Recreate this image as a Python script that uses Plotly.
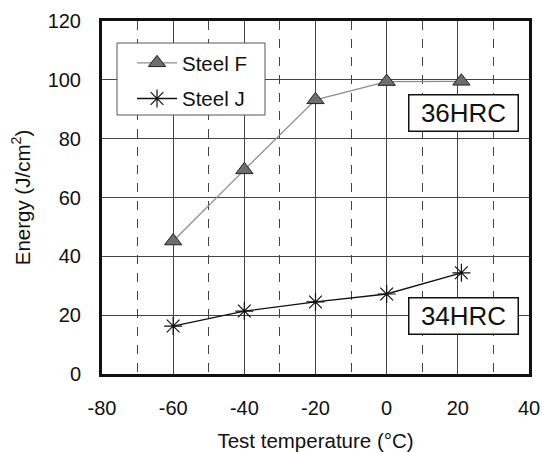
import plotly.graph_objects as go

temps = [-60, -40, -20, 0, 21]
steel_f = [45.2, 69.4, 93.2, 99.4, 99.5]
steel_j = [16.3, 21.4, 24.5, 27.2, 34.4]

x_ticks = [-80, -60, -40, -20, 0, 20, 40]
x_labels = ["-80", "-60", "-40", "-20", "0", "20", "40"]
y_ticks = [0, 20, 40, 60, 80, 100, 120]
y_labels = ["0", "20", "40", "60", "80", "100", "120"]

FONT = "Liberation Sans, Arial, sans-serif"
INK = "#111"

fig = go.Figure()
fig.add_trace(go.Scatter(
    x=temps, y=steel_f, name="Steel F", mode="lines+markers", legendgroup="f",
    line=dict(color="#8c8c8c", width=1.3),
    marker=dict(symbol="triangle-up", size=15, color="#6e6e6e",
                line=dict(color="#222", width=1)),
))
fig.add_trace(go.Scatter(
    x=temps, y=steel_j, name="Steel J", mode="lines+markers", legendgroup="j",
    line=dict(color=INK, width=1.3),
    marker=dict(symbol="asterisk-open", size=15, color=INK,
                line=dict(color=INK, width=1.2)),
))

# legend frame (decorative box behind the legend entries)
fig.add_shape(type="rect", xref="paper", yref="paper",
              x0=(117 - 102) / 427, x1=(265 - 102) / 427,
              y0=(374 - 115) / 353, y1=(374 - 43) / 353,
              line=dict(color="#555", width=1), fillcolor="white", layer="above")

for label, yv in [("36HRC", 88.6), ("34HRC", 19.6)]:
    fig.add_annotation(x=0.977, y=yv, xref="paper", yref="y", text=label,
                       showarrow=False, xanchor="right", yanchor="middle",
                       width=104, height=31, align="center",
                       font=dict(family=FONT, size=26, color=INK),
                       bordercolor=INK, borderwidth=1.5, borderpad=2, bgcolor="white")

axis_common = dict(
    showline=True, linewidth=3, linecolor=INK, mirror=True,
    showgrid=True, gridcolor="#444", gridwidth=1, zeroline=False,
    ticks="", tickfont=dict(family=FONT, size=20, color=INK),
    automargin=False,
)

fig.update_xaxes(
    range=[-80, 40], tickvals=x_ticks, ticktext=x_labels,
    minor=dict(tick0=-70, dtick=20, showgrid=True, gridcolor="#444",
               griddash="dash", gridwidth=1),
    title=dict(text="Test temperature (°C)", font=dict(family=FONT, size=20.5, color=INK),
               standoff=22),
    ticklabelstandoff=14,
    **axis_common,
)
fig.update_yaxes(
    range=[0, 120], tickvals=y_ticks, ticktext=y_labels,
    title=dict(text="Energy (J/cm<sup>2</sup>)", font=dict(family=FONT, size=20.5, color=INK),
               standoff=12),
    ticklabelstandoff=14,
    **axis_common,
)

fig.update_layout(
    width=542, height=452,
    margin=dict(l=102, r=13, t=21, b=78, autoexpand=False),
    paper_bgcolor="white", plot_bgcolor="white",
    showlegend=True,
    legend=dict(x=(132 - 102) / 427, y=(374 - 43) / 353, xanchor="left", yanchor="top",
                bgcolor="rgba(0,0,0,0)", borderwidth=0,
                font=dict(family=FONT, size=20.5, color=INK),
                itemwidth=40, tracegroupgap=6),
    font=dict(family=FONT),
)

fig.write_html("out.html")
